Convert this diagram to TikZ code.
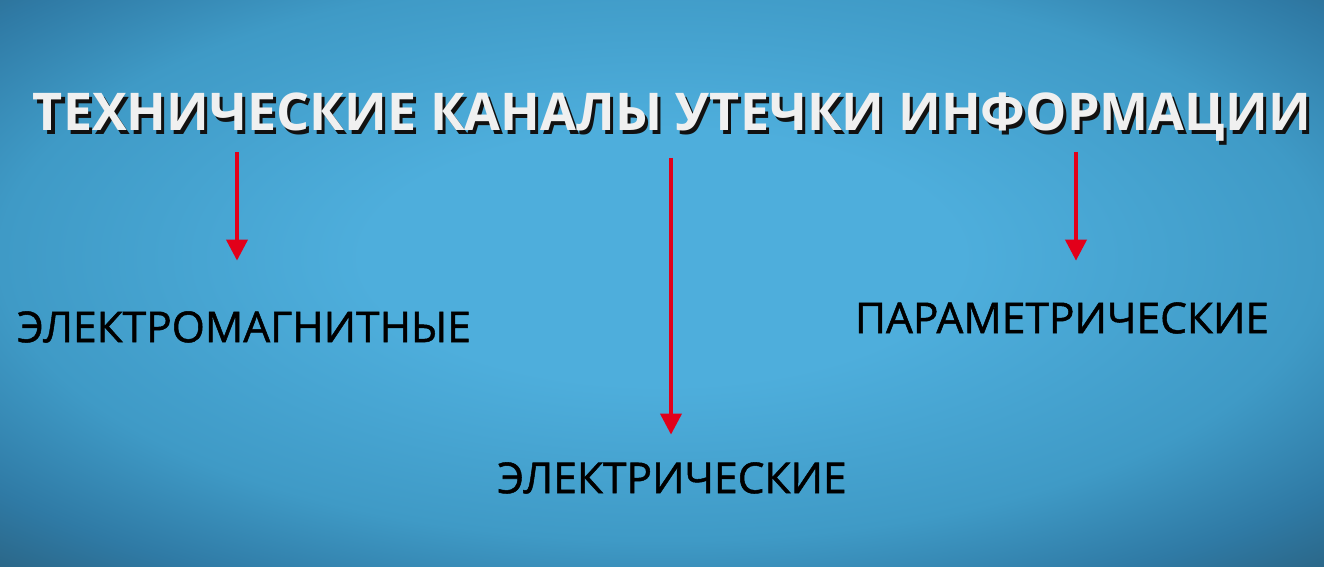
\documentclass[tikz,border=0pt]{standalone}
\usepackage{fontspec}
\setmainfont{Open Sans}
\newfontfamily\leaffont{Open Sans}[FakeBold=1.2]
\usepackage{xcolor}
\usepackage{tikz}
\usetikzlibrary{positioning, arrows.meta, calc}
\definecolor{BgIn}   {HTML}{4EAEDC}
\definecolor{BgMid}  {HTML}{3F9AC6}
\definecolor{BgEdge} {HTML}{2F7AA5}
\definecolor{BgOut}  {HTML}{27566F}
\definecolor{ArrRed} {HTML}{E2001A}
\definecolor{TitleWh}{HTML}{F0F0F0}
\definecolor{Shadow} {HTML}{111111}
\pgfdeclareradialshading{bgglow}{\pgfpoint{0bp}{0bp}}{%
  color(0bp)=(BgIn); color(45bp)=(BgIn); color(100bp)=(BgMid);
  color(130bp)=(BgEdge); color(165bp)=(BgOut)}

\begin{document}
\begin{tikzpicture}
      % ── background ──────────────────────────────────────────────────────────
      \useasboundingbox (0,0) rectangle (13.24,5.67);
      \begin{scope}
        \clip (0,0) rectangle (13.24,5.67);
        \pgftransformshift{\pgfpoint{6.62cm}{3.1cm}}
        \pgftransformxscale{1.877}
        \pgftransformyscale{0.804}
        \pgflowlevelsynccm
        \pgfuseshading{bgglow}
      \end{scope}
      % ── styles ──────────────────────────────────────────────────────────────
      \tikzset{
        titletxt/.style={font=\fontsize{14.8}{17}\selectfont\bfseries, inner sep=0pt},
        leaftxt/.style={font=\fontsize{12.1}{14}\selectfont\leaffont, text=black, inner sep=0pt},
        leakarrow/.style={ArrRed, line width=1.1pt, -{Triangle[width=6pt, length=6pt]}}
      }
      % ── title with shadow ───────────────────────────────────────────────────
      \node[titletxt, text=Shadow] (titleshd) at (6.75,4.46)
        {ТЕХНИЧЕСКИЕ КАНАЛЫ УТЕЧКИ ИНФОРМАЦИИ};
      \node[titletxt, text=TitleWh] (title) at (6.72,4.50)
        {ТЕХНИЧЕСКИЕ КАНАЛЫ УТЕЧКИ ИНФОРМАЦИИ};
      % ── channel labels ──────────────────────────────────────────────────────
      \node[leaftxt] (emag)  at (2.44,2.40) {ЭЛЕКТРОМАГНИТНЫЕ};
      \node[leaftxt] (param) at (10.62,2.49) {ПАРАМЕТРИЧЕСКИЕ};
      \node[leaftxt] (elec)  at (6.72,0.89) {ЭЛЕКТРИЧЕСКИЕ};
      % ── arrows ──────────────────────────────────────────────────────────────
      \coordinate (emagtop)  at (2.37,4.15);
      \coordinate (electop)  at (6.71,4.09);
      \coordinate (paramtop) at (10.76,4.15);
      \draw[leakarrow, shorten >=0.5cm]  (emagtop)  -- (emagtop |- emag.north);
      \draw[leakarrow, shorten >=0.27cm] (electop)  -- (electop |- elec.north);
      \draw[leakarrow, shorten >=0.41cm] (paramtop) -- (paramtop |- param.north);
\end{tikzpicture}
\end{document}
